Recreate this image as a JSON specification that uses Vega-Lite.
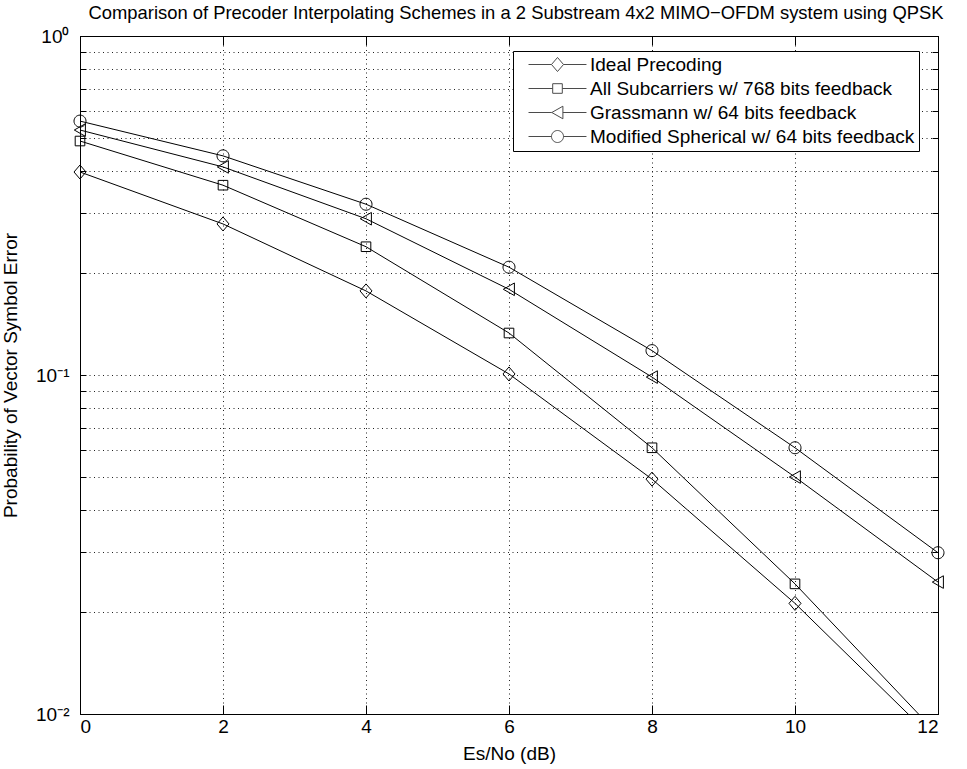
{
  "$schema": "https://vega.github.io/schema/vega-lite/v6.json",
  "autosize": {"type": "none"},
  "width": 858,
  "height": 678,
  "padding": {"left": 80, "top": 36, "right": 29, "bottom": 55},
  "background": "white",
  "config": {
    "font": "Liberation Sans",
    "view": {"stroke": "black", "strokeWidth": 1},
    "axis": {"labelFont": "Liberation Sans", "titleFont": "Liberation Sans", "labelFontSize": 19, "titleFontSize": 19, "labelColor": "black", "titleColor": "black", "titleFontWeight": "normal", "domainColor": "black", "tickColor": "black"}
  },
  "title": {"text": "Comparison of Precoder Interpolating Schemes in a 2 Substream 4x2 MIMO−OFDM system using QPSK", "fontSize": 18.4, "fontWeight": "normal", "font": "Liberation Sans", "color": "black", "anchor": "middle", "frame": "group", "baseline": "alphabetic", "offset": 7, "dy": 17, "dx": 7},
  "data": {"values": [
    {"snr": 0, "p": 0.397, "series": "Ideal Precoding"},
    {"snr": 2, "p": 0.279, "series": "Ideal Precoding"},
    {"snr": 4, "p": 0.177, "series": "Ideal Precoding"},
    {"snr": 6, "p": 0.1007, "series": "Ideal Precoding"},
    {"snr": 8, "p": 0.0493, "series": "Ideal Precoding"},
    {"snr": 10, "p": 0.0212, "series": "Ideal Precoding"},
    {"snr": 12, "p": 0.0082, "series": "Ideal Precoding"},
    {"snr": 0, "p": 0.49, "series": "All Subcarriers w/ 768 bits feedback"},
    {"snr": 2, "p": 0.363, "series": "All Subcarriers w/ 768 bits feedback"},
    {"snr": 4, "p": 0.239, "series": "All Subcarriers w/ 768 bits feedback"},
    {"snr": 6, "p": 0.133, "series": "All Subcarriers w/ 768 bits feedback"},
    {"snr": 8, "p": 0.061, "series": "All Subcarriers w/ 768 bits feedback"},
    {"snr": 10, "p": 0.0242, "series": "All Subcarriers w/ 768 bits feedback"},
    {"snr": 12, "p": 0.0087, "series": "All Subcarriers w/ 768 bits feedback"},
    {"snr": 0, "p": 0.528, "series": "Grassmann w/ 64 bits feedback"},
    {"snr": 2, "p": 0.411, "series": "Grassmann w/ 64 bits feedback"},
    {"snr": 4, "p": 0.289, "series": "Grassmann w/ 64 bits feedback"},
    {"snr": 6, "p": 0.179, "series": "Grassmann w/ 64 bits feedback"},
    {"snr": 8, "p": 0.0986, "series": "Grassmann w/ 64 bits feedback"},
    {"snr": 10, "p": 0.05, "series": "Grassmann w/ 64 bits feedback"},
    {"snr": 12, "p": 0.0245, "series": "Grassmann w/ 64 bits feedback"},
    {"snr": 0, "p": 0.561, "series": "Modified Spherical w/ 64 bits feedback"},
    {"snr": 2, "p": 0.443, "series": "Modified Spherical w/ 64 bits feedback"},
    {"snr": 4, "p": 0.319, "series": "Modified Spherical w/ 64 bits feedback"},
    {"snr": 6, "p": 0.208, "series": "Modified Spherical w/ 64 bits feedback"},
    {"snr": 8, "p": 0.118, "series": "Modified Spherical w/ 64 bits feedback"},
    {"snr": 10, "p": 0.061, "series": "Modified Spherical w/ 64 bits feedback"},
    {"snr": 12, "p": 0.0299, "series": "Modified Spherical w/ 64 bits feedback"}
  ]},
  "layer": [
    {
      "mark": {"type": "line", "color": "black", "strokeWidth": 1, "clip": true},
      "encoding": {
        "x": {"field": "snr", "type": "quantitative", "scale": {"domain": [0, 12], "nice": false, "zero": false},
          "axis": {"title": "Es/No (dB)", "values": [0, 2, 4, 6, 8, 10, 12], "grid": true, "gridColor": "#222", "gridDash": [1, 3.5], "gridOpacity": 1, "tickSize": -9, "labelPadding": 12, "titlePadding": 8, "domainColor": "black"}},
        "y": {"field": "p", "type": "quantitative", "scale": {"type": "log", "domain": [0.01, 1], "nice": false},
          "axis": {"title": "Probability of Vector Symbol Error", "values": [0.01, 0.02, 0.03, 0.04, 0.05, 0.06, 0.07, 0.08, 0.09, 0.1, 0.2, 0.3, 0.4, 0.5, 0.6, 0.7, 0.8, 0.9, 1],
            "labelExpr": "datum.value == 1 ? '10⁰' : (abs(datum.value - 0.1) < 1e-9 ? '10⁻¹' : (abs(datum.value - 0.01) < 1e-9 ? '10⁻²' : ''))",
            "grid": true, "gridColor": "#222", "gridDash": [1, 3.5], "gridOpacity": 1, "tickSize": -6, "labelPadding": 17, "titlePadding": 15, "labelFlush": false, "labelOverlap": false}},
        "detail": {"field": "series"}
      }
    },
    {
      "transform": [{"filter": "datum.p >= 0.01"}],
      "mark": {"type": "point", "filled": false, "stroke": "black", "strokeWidth": 1, "size": 144, "opacity": 1},
      "encoding": {
        "x": {"field": "snr", "type": "quantitative", "axis": {"orient": "top", "title": null, "labels": false, "grid": false, "values": [0, 2, 4, 6, 8, 10, 12], "tickSize": -9, "domainColor": "black"}},
        "y": {"field": "p", "type": "quantitative", "axis": {"orient": "right", "title": null, "labels": false, "grid": false, "values": [0.01, 0.02, 0.03, 0.04, 0.05, 0.06, 0.07, 0.08, 0.09, 0.1, 0.2, 0.3, 0.4, 0.5, 0.6, 0.7, 0.8, 0.9, 1], "tickSize": -6}},
        "shape": {"field": "series", "type": "nominal", "legend": null,
          "scale": {"domain": ["Ideal Precoding", "All Subcarriers w/ 768 bits feedback", "Grassmann w/ 64 bits feedback", "Modified Spherical w/ 64 bits feedback"],
            "range": ["M0,-1.17L1,0L0,1.17L-1,0Z", "M-0.8,-0.8L0.8,-0.8L0.8,0.8L-0.8,0.8Z", "M-0.95,0L0.9,-1.05L0.9,1.05Z", "M1,0A1,1 0 1,1 -1,0A1,1 0 1,1 1,0Z"]}
        }
      }
    },
    {
      "transform": [{"filter": "datum.p < 0"}],
      "mark": {"type": "point", "filled": false, "stroke": "black", "strokeWidth": 1, "size": 144},
      "encoding": {
        "x": {"field": "snr", "type": "quantitative", "axis": null},
        "y": {"field": "p", "type": "quantitative", "axis": null},
        "shape": {"field": "series", "type": "nominal",
          "scale": {"domain": ["Ideal Precoding", "All Subcarriers w/ 768 bits feedback", "Grassmann w/ 64 bits feedback", "Modified Spherical w/ 64 bits feedback"],
            "range": ["M-4.83,0L-1,0M1,0L4.83,0M0,-1.17L1,0L0,1.17L-1,0Z", "M-4.83,0L-0.8,0M0.8,0L4.83,0M-0.8,-0.8L0.8,-0.8L0.8,0.8L-0.8,0.8Z", "M-4.83,0L-0.95,0M0.9,0L4.83,0M-0.95,0L0.9,-1.05L0.9,1.05Z", "M-4.83,0L-1,0M1,0L4.83,0M1,0A1,1 0 1,1 -1,0A1,1 0 1,1 1,0Z"]},
          "legend": {"title": null, "orient": "none", "legendX": 433, "legendY": 15, "padding": 4, "strokeColor": "black", "fillColor": "white", "symbolSize": 144, "symbolStrokeColor": "black", "symbolFillColor": "transparent", "symbolStrokeWidth": 1, "symbolOffset": 31, "labelOffset": 23, "labelFontSize": 19, "labelFont": "Liberation Sans", "labelColor": "black", "labelLimit": 500, "rowPadding": 4}
        }
      }
    }
  ],
  "resolve": {"axis": {"x": "independent", "y": "independent"}, "scale": {"shape": "independent"}}
}
